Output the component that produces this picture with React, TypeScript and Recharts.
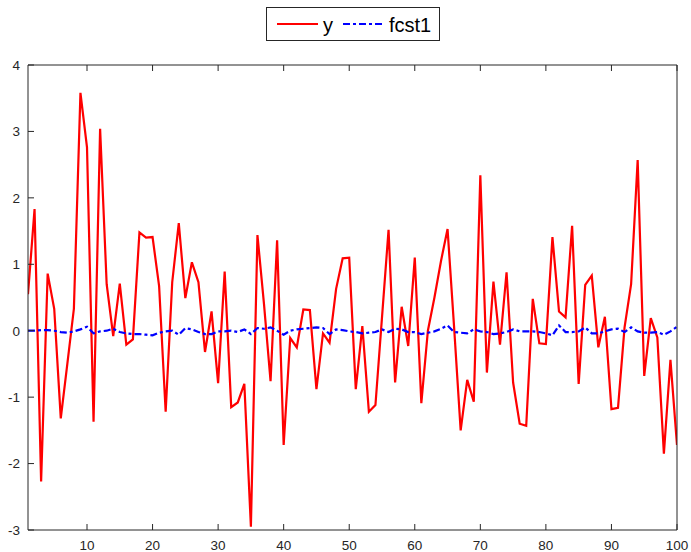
import React from 'react';
import { LineChart, Line, XAxis, YAxis } from 'recharts';

// observation index 1..100
const xValues = Array.from({ length: 100 }, (_, i) => i + 1);

const yValues = [
  0.55, 1.83, -2.27, 0.86, 0.33, -1.32, -0.5, 0.33, 3.58, 2.76,
  -1.37, 3.04, 0.7, -0.08, 0.71, -0.21, -0.13, 1.48, 1.4, 1.41,
  0.67, -1.22, 0.73, 1.62, 0.49, 1.03, 0.73, -0.32, 0.29, -0.79,
  0.89, -1.15, -1.08, -0.8, -2.95, 1.44, 0.4, -0.76, 1.36, -1.72,
  -0.11, -0.25, 0.32, 0.31, -0.88, -0.04, -0.18, 0.63, 1.09, 1.1,
  -0.88, 0.07, -1.22, -1.12, 0.2, 1.52, -0.78, 0.36, -0.23, 1.1,
  -1.09, 0.0, 0.5, 1.05, 1.53, 0.05, -1.5, -0.74, -1.07, 2.34,
  -0.63, 0.74, -0.21, 0.88, -0.78, -1.4, -1.43, 0.48, -0.19, -0.2,
  1.41, 0.29, 0.2, 1.58, -0.8, 0.69, 0.83, -0.25, 0.21, -1.18,
  -1.16, 0.05, 0.7, 2.57, -0.68, 0.19, -0.1, -1.85, -0.44, -1.72,
];

const fcstValues = [
  0.0, 0.0, 0.01, 0.01, 0.0, -0.02, -0.03, -0.01, 0.02, 0.06,
  -0.04, -0.01, 0.0, 0.03, -0.02, -0.04, -0.05, -0.05, -0.06, -0.07,
  -0.03, -0.01, 0.0, -0.06, 0.04, 0.02, -0.02, -0.05, -0.05, -0.01,
  -0.01, 0.0, -0.02, 0.02, -0.05, 0.04, 0.03, 0.05, 0.0, -0.06,
  0.0, 0.02, 0.03, 0.04, 0.05, 0.04, -0.05, 0.02, 0.01, -0.01,
  -0.02, -0.04, -0.03, -0.02, 0.02, -0.02, 0.03, 0.02, -0.02, -0.02,
  -0.05, -0.03, -0.01, 0.03, 0.08, -0.02, -0.03, -0.04, 0.02, -0.01,
  -0.02, -0.05, -0.04, -0.02, 0.02, -0.01, -0.01, -0.01, -0.02, -0.04,
  -0.07, 0.08, -0.02, -0.02, -0.01, 0.05, -0.04, -0.04, -0.01, 0.02,
  0.03, -0.02, 0.05, -0.01, -0.03, -0.03, -0.02, -0.06, -0.01, 0.06,
];

const xTicks = [10, 20, 30, 40, 50, 60, 70, 80, 90, 100];
const yTicks = [-3, -2, -1, 0, 1, 2, 3, 4];

const data = xValues.map((x, i) => ({ x, y: yValues[i], fcst1: fcstValues[i] }));

const FONT = '"Liberation Sans", Arial, Helvetica, sans-serif';
const AXIS = '#262626';
const tickFont = { fontSize: 13.5, fill: AXIS, fontFamily: FONT };
const noLabel = () => <g />;

const App: React.FC = () => {
  return (
    <div style={{ position: 'absolute', left: 0, top: 0, width: 691, height: 552, background: '#fff' }}>
      <LineChart
        width={691}
        height={552}
        data={data}
        margin={{ top: 64, right: 13, left: 0, bottom: 0 }}
      >
        <XAxis
          dataKey="x"
          type="number"
          domain={[1, 100]}
          ticks={xTicks}
          allowDataOverflow
          height={22}
          tickSize={-6}
          tickMargin={16}
          stroke={AXIS}
          tick={tickFont}
        />
        <XAxis
          xAxisId="top"
          dataKey="x"
          type="number"
          orientation="top"
          domain={[1, 100]}
          ticks={xTicks}
          height={1}
          tickSize={-6}
          stroke={AXIS}
          tick={noLabel}
        />
        <YAxis
          type="number"
          domain={[-3, 4]}
          ticks={yTicks}
          width={28}
          tickSize={-6}
          tickMargin={14}
          stroke={AXIS}
          tick={tickFont}
        />
        <YAxis
          yAxisId="right"
          type="number"
          orientation="right"
          domain={[-3, 4]}
          ticks={yTicks}
          width={1}
          tickSize={-6}
          stroke={AXIS}
          tick={noLabel}
        />
        <Line
          type="linear"
          dataKey="y"
          stroke="#ff0000"
          strokeWidth={2.2}
          dot={false}
          isAnimationActive={false}
        />
        <Line
          type="linear"
          dataKey="fcst1"
          stroke="#0000ff"
          strokeWidth={2.2}
          strokeDasharray="7 3 3 3"
          dot={false}
          isAnimationActive={false}
        />
      </LineChart>

      {/* legend box, MATLAB style */}
      <div
        style={{
          position: 'absolute',
          left: 266,
          top: 7,
          width: 172,
          height: 32,
          border: `1px solid ${AXIS}`,
          background: '#fff',
        }}
      >
        <svg width={172} height={32} style={{ position: 'absolute', left: 0, top: 0 }}>
          <line x1={10} y1={16} x2={51} y2={16} stroke="#ff0000" strokeWidth={2.2} />
          <text x={56} y={24} fontFamily={FONT} fontSize={20} fill="#000">y</text>
          <line x1={76} y1={16} x2={116} y2={16} stroke="#0000ff" strokeWidth={2.2} strokeDasharray="7 3 3 3" />
          <text x={122} y={24} fontFamily={FONT} fontSize={20} fill="#000">fcst1</text>
        </svg>
      </div>
    </div>
  );
};

export default App;
